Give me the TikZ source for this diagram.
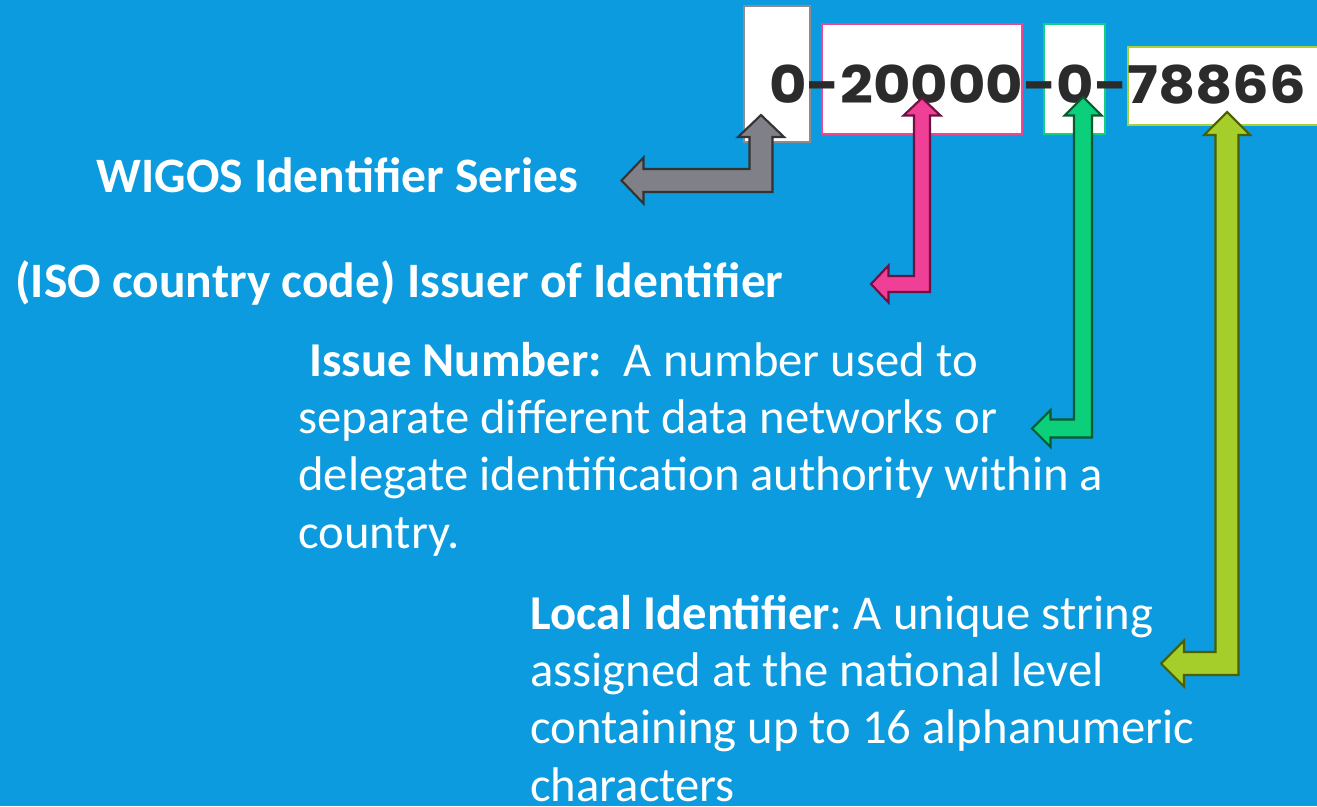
\documentclass[tikz,border=0pt]{standalone}
\usepackage{fontspec}
\setmainfont{Carlito}
\newfontfamily\digitfont{Poppins}
\usetikzlibrary{calc}
\frenchspacing
\definecolor{sky}{HTML}{0B9BDE}
\definecolor{ink}{HTML}{2B2B2B}
\definecolor{gline}{HTML}{8C8C8C}
\definecolor{pline}{HTML}{EE4595}
\definecolor{eline}{HTML}{12D07C}
\definecolor{oline}{HTML}{A9D23A}
\definecolor{gfill}{HTML}{808088}
\definecolor{gedge}{HTML}{333333}
\definecolor{pfill}{HTML}{EF3F97}
\definecolor{pedge}{HTML}{6E1040}
\definecolor{efill}{HTML}{0BCF7B}
\definecolor{eedge}{HTML}{0A5A2E}
\definecolor{ofill}{HTML}{A6CE2B}
\definecolor{oedge}{HTML}{4B5E00}
\tikzset{
  idbox/.style={draw, line width=1.5pt, fill=white, inner sep=0pt},
  lbl/.style={anchor=base west, inner sep=0pt, text=white, font=\fontsize{28.2}{33}\selectfont\bfseries},
  para/.style={anchor=base west, inner sep=0pt, text=white, align=left, font=\fontsize{27.7}{32.6}\selectfont},
  barrow/.style={line width=1.2pt, line join=miter},
}
% bent block arrow: #1 style, #2 top tip, #3 left tip, #4 half shaft, #5 half head, #6 head length
\newcommand\bentarrow[6]{%
  \draw[barrow,#1] let \p1=(#2), \p2=(#3) in
    (\x1,\y1) -- (\x1+#5,\y1-#6) -- (\x1+#4,\y1-#6) -- (\x1+#4,\y2-#4)
    -- (\x2+#6,\y2-#4) -- (\x2+#6,\y2-#5) -- (\x2,\y2) -- (\x2+#6,\y2+#5)
    -- (\x2+#6,\y2+#4) -- (\x1-#4,\y2+#4) -- (\x1-#4,\y1-#6) -- (\x1-#5,\y1-#6) -- cycle;
}
\begin{document}
\begin{tikzpicture}[x=0.02cm, y=-0.02cm]
  \fill[sky] (0,0) rectangle (1317,806);  % background
  \clip (0,0) rectangle (1317,806);
  %
  \node[idbox, draw=gline, minimum width=1.32cm, minimum height=2.72cm] (gbox) at (777,74) {};   % boxes
  \node[idbox, draw=pline, minimum width=4cm, minimum height=2.2cm] (pbox) at (922,79) {};
  \node[idbox, draw=eline, minimum width=1.22cm, minimum height=2.2cm] (ebox) at (1074.5,79) {};
  \node[idbox, draw=oline, minimum width=3.94cm, minimum height=1.56cm] (obox) at (1226.5,86) {};
  %
  \node[anchor=base west, inner sep=0pt, text=ink, font=\fontsize{29.5}{35}\digitfont\bfseries] (wid) at (769,103) {\scalebox{1.11}[1]{0-20000-0-78866}};
  %
  \node[lbl] (series) at (96,192) {WIGOS Identifier Series};
  \node[lbl] (issuer) at (15,297) {(ISO country code) Issuer of Identifier};
  \node[para] (issue) at (298,548) {\textbf{\ Issue Number:}\ \ A number used to\\
    separate different data networks or\\
    delegate identification authority within a\\
    country.};
  \node[para] (local) at (530,801) {\textbf{Local Identifier}: A unique string\\
    assigned at the national level\\
    containing up to 16 alphanumeric\\
    characters};
  %
  \coordinate (gtip) at (761,115);  \coordinate (gend) at (621.5,180.5);  % arrow ends
  \coordinate (ptip) at (922,98);   \coordinate (pend) at (871,284);
  \coordinate (etip) at (1083,97);  \coordinate (eend) at (1032,428.5);
  \coordinate (otip) at (1227,112); \coordinate (oend) at (1161,663.5);
  %
  \bentarrow{fill=gfill, draw=gedge}{gtip}{gend}{0.23cm}{0.46cm}{0.44cm}
  \bentarrow{fill=pfill, draw=pedge}{ptip}{pend}{0.16cm}{0.37cm}{0.35cm}
  \bentarrow{fill=efill, draw=eedge}{etip}{eend}{0.18cm}{0.37cm}{0.37cm}
  \bentarrow{fill=ofill, draw=oedge}{otip}{oend}{0.23cm}{0.46cm}{0.46cm}
\end{tikzpicture}
\end{document}
